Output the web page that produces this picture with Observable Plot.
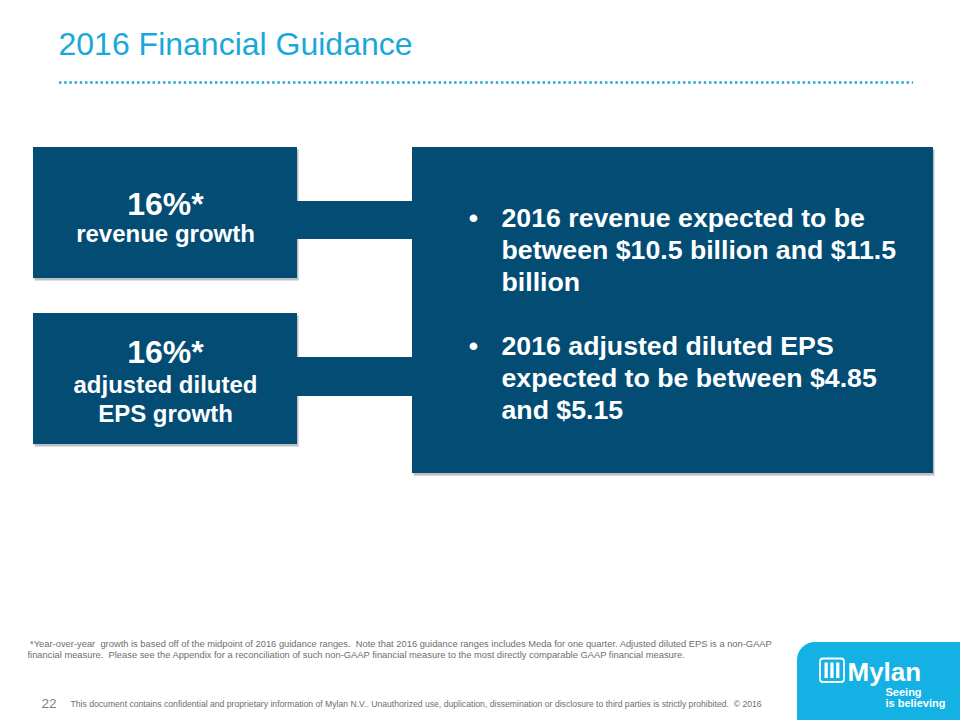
<!DOCTYPE html>
<html><head><meta charset="utf-8">
<script src="https://cdn.jsdelivr.net/npm/d3@7"></script>
<script src="https://cdn.jsdelivr.net/npm/@observablehq/plot@0.6"></script>
<style>
html,body{margin:0;padding:0;background:#fff;overflow:hidden;width:960px;height:720px}
#chart svg{display:block}
#chart text{white-space:pre}
</style></head><body><div id="chart"></div>
<script>
// ---------------- data ----------------
const title = "2016 Financial Guidance";
const growthRates = [16, 16];                       // % YoY growth (midpoint of guidance)
const growthMetrics = ["revenue growth", "adjusted diluted\nEPS growth"];
const revenueGuidance = [10.5, 11.5];               // $ billion
const epsGuidance = [4.85, 5.15];                   // $ per share
const guidanceYear = 2016;
const footnoteLines = [
  " *Year-over-year  growth is based off of the midpoint of 2016 guidance ranges.  Note that 2016 guidance ranges includes Meda for one quarter. Adjusted diluted EPS is a non-GAAP",
  "financial measure.  Please see the Appendix for a reconciliation of such non-GAAP financial measure to the most directly comparable GAAP financial measure."
];
const pageNumber = "22";
const disclaimer = "This document contains confidential and proprietary information of Mylan N.V.. Unauthorized use, duplication, dissemination or disclosure to third parties is strictly prohibited.  \u00A9 2016";
const logoName = "Mylan";
const logoTagline = ["Seeing", "is believing"];

// ---------------- layout (positions/styles) ----------------
const W = 960, H = 720;
const navy = "#034C74", cyan = "#1AA8DA", logoCyan = "#14B1E4";
const font = "'Liberation Sans', Arial, sans-serif";
const leftBoxes = [{x1: 33, x2: 297, y1: 147, y2: 278}, {x1: 33, x2: 297, y1: 313, y2: 444}];
const connectors = [{x1: 296, x2: 413, y1: 201, y2: 239}, {x1: 296, x2: 413, y1: 357, y2: 396}];
const rightBox = {x1: 412, x2: 933, y1: 147, y2: 473};
const rateBaseline = [214, 362];
const labelBaseline = [241, 392];
const bulletBaseline = [226, 354];

const bullets = [
  `${guidanceYear} revenue expected to be\nbetween $${revenueGuidance[0]} billion and $${revenueGuidance[1]}\nbillion`,
  `${guidanceYear} adjusted diluted EPS\nexpected to be between $${epsGuidance[0].toFixed(2)}\nand $${epsGuidance[1].toFixed(2)}`
];

const boxes = [...leftBoxes, rightBox];
const rateRows = growthRates.map((r, i) => ({text: `${r}%*`, x: 165, y: rateBaseline[i]}));
const labelRows = growthMetrics.flatMap((m, i) => m.split("\n").map((t, j) => ({text: t, x: 165, y: labelBaseline[i] + j * 29})));
const bulletRows = bullets.flatMap((b, i) => b.split("\n").map((t, j) => ({text: t, x: 501, y: bulletBaseline[i] + j * 32})));
const bulletDots = bullets.map((b, i) => ({text: "\u2022", x: 473, y: bulletBaseline[i]}));
const footRows = footnoteLines.map((t, i) => ({text: t, x: 27, y: 646 + i * 11}));

const chart = Plot.plot({
  width: W, height: H,
  margin: 0,
  x: {domain: [0, W], range: [0, W], axis: null},
  y: {domain: [0, H], range: [0, H], axis: null},
  style: {fontFamily: font, background: "#fff", overflow: "hidden"},
  marks: [
    // title + dotted rule
    Plot.text([title], {x: 58, y: 54, text: d => d, textAnchor: "start", lineAnchor: "bottom", fontSize: 32, fill: cyan}),
    Plot.ruleY([82], {y: d => d, x1: 59, x2: 913, stroke: cyan, strokeWidth: 2.6, strokeDasharray: "2.4,2.8"}),
    // shadows
    Plot.rect(boxes, {x1: d => d.x1 + 1.5, x2: d => d.x2 + 1.5, y1: d => d.y1 + 2.5, y2: d => d.y2 + 2.5, fill: "#8a949c", fillOpacity: 0.6}),
    // connectors
    Plot.rect(connectors, {x1: "x1", x2: "x2", y1: "y1", y2: "y2", fill: navy}),
    // boxes
    Plot.rect(boxes, {x1: "x1", x2: "x2", y1: "y1", y2: "y2", fill: navy}),
    // left box text
    Plot.text(rateRows, {x: "x", y: "y", text: "text", lineAnchor: "bottom", fontSize: 32, fontWeight: "bold", fill: "#fff"}),
    Plot.text(labelRows, {x: "x", y: "y", text: "text", lineAnchor: "bottom", fontSize: 24, fontWeight: "bold", fill: "#fff"}),
    // right box bullets
    Plot.text(bulletDots, {x: "x", y: "y", text: "text", lineAnchor: "bottom", fontSize: 26.7, fontWeight: "bold", fill: "#fff"}),
    Plot.text(bulletRows, {x: "x", y: "y", text: "text", textAnchor: "start", lineAnchor: "bottom", fontSize: 26.7, fontWeight: "bold", fill: "#fff"}),
    // footnote
    Plot.text(footRows, {x: "x", y: "y", text: "text", textAnchor: "start", lineAnchor: "bottom", fontSize: 9.35, fill: "#6e6e6e"}),
    // footer
    Plot.text([pageNumber], {x: 41, y: 707, text: d => d, textAnchor: "start", lineAnchor: "bottom", fontSize: 13.5, fill: "#7f7f7f"}),
    Plot.text([disclaimer], {x: 70, y: 706, text: d => d, textAnchor: "start", lineAnchor: "bottom", fontSize: 8.65, fill: "#6e6e6e"}),
    // logo
    Plot.rect([{x1: 797, x2: W + 40, y1: 642, y2: H + 40}], {x1: "x1", x2: "x2", y1: "y1", y2: "y2", fill: logoCyan, rx: 18}),
    Plot.rect([{x1: 820, x2: 844, y1: 658.5, y2: 682}], {x1: "x1", x2: "x2", y1: "y1", y2: "y2", fill: "none", stroke: "#fff", strokeWidth: 1.8, rx: 3}),
    Plot.rect([0, 1, 2], {x1: i => 824.5 + i * 5.8, x2: i => 827.8 + i * 5.8, y1: 662.5, y2: 678, fill: "#fff"}),
    Plot.text([logoName], {x: 847, y: 680, text: d => d, textAnchor: "start", lineAnchor: "bottom", fontSize: 26, fontWeight: "bold", fill: "#fff", letterSpacing: -0.4}),
    Plot.text(logoTagline, {x: 885, y: (d, i) => 695 + i * 11, text: d => d, textAnchor: "start", lineAnchor: "bottom", fontSize: 11, fontWeight: "bold", fill: "#fff"})
  ]
});
document.getElementById("chart").appendChild(chart);
</script></body></html>
